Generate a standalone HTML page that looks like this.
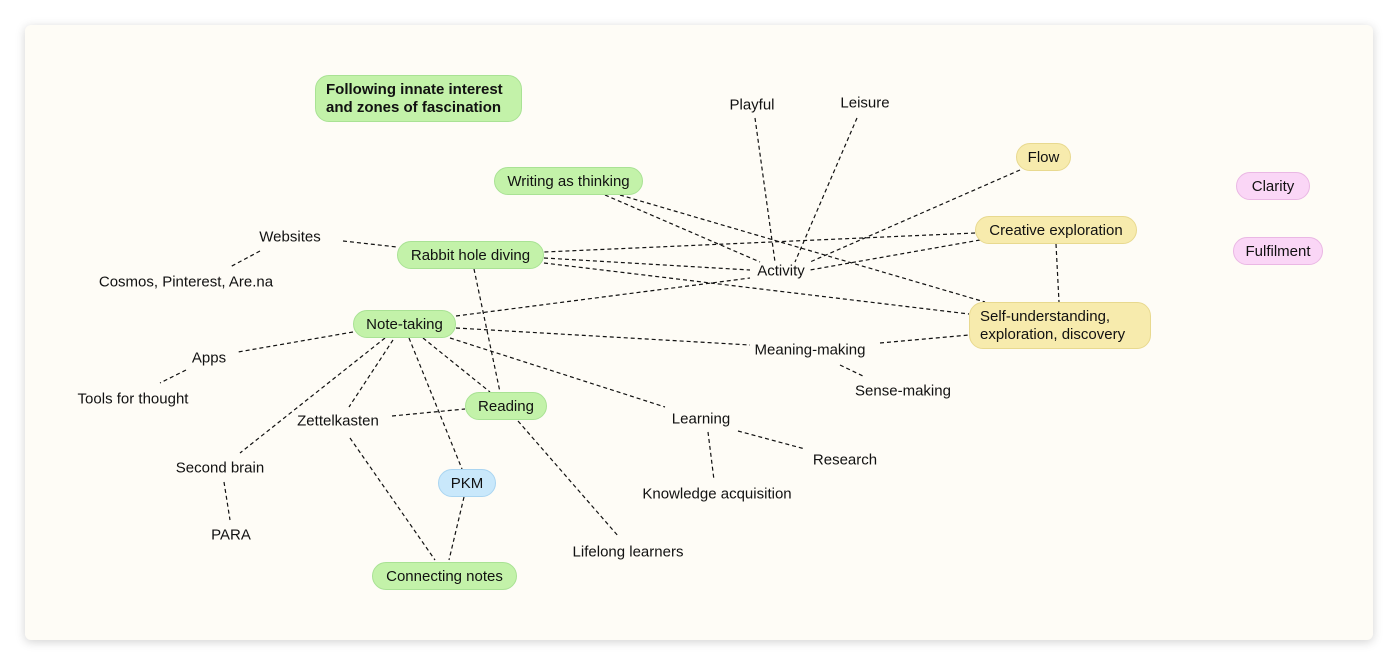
<!DOCTYPE html>
<html><head><meta charset="utf-8"><style>
html,body{margin:0;padding:0;width:1398px;height:665px;background:#fff;overflow:hidden;font-family:"Liberation Sans",Arial,sans-serif;}
.card{position:absolute;left:25px;top:25px;width:1348px;height:615px;background:#fefcf6;border-radius:6px;box-shadow:0 2px 10px rgba(0,0,0,0.18);}
svg{position:absolute;left:0;top:0;}
.n{position:absolute;box-sizing:border-box;border-radius:14px;font-size:15px;color:#111;display:flex;align-items:center;justify-content:center;white-space:nowrap;}
.g{background:#c3f2a9;border:1px solid #a9e294;}
.y{background:#f7ebad;border:1px solid #e8d98f;}
.b{background:#c9e8fb;border:1px solid #aad5f1;}
.p{background:#fad6f6;border:1px solid #eab7e4;}
.t{position:absolute;font-size:15px;color:#111;white-space:nowrap;transform:translate(-50%,-50%);}
</style></head><body>
<div class="card"></div>
<svg width="1398" height="665" stroke="#111" stroke-width="1.2" stroke-dasharray="4,3" fill="none">
<line x1="755" y1="118" x2="775" y2="262"/>
<line x1="857" y1="118" x2="795" y2="262"/>
<line x1="1020" y1="170" x2="810" y2="262"/>
<line x1="605" y1="195" x2="760" y2="262"/>
<line x1="620" y1="195" x2="985" y2="302"/>
<line x1="975" y1="233" x2="544" y2="252"/>
<line x1="980" y1="240" x2="810" y2="270"/>
<line x1="1056" y1="244" x2="1059" y2="302"/>
<line x1="544" y1="258" x2="750" y2="270"/>
<line x1="544" y1="263" x2="969" y2="314"/>
<line x1="343" y1="241" x2="397" y2="247"/>
<line x1="260" y1="251" x2="230" y2="267"/>
<line x1="456" y1="316" x2="750" y2="278"/>
<line x1="474" y1="269" x2="500" y2="392"/>
<line x1="456" y1="328" x2="750" y2="345"/>
<line x1="880" y1="343" x2="969" y2="335"/>
<line x1="840" y1="365" x2="865" y2="377"/>
<line x1="450" y1="338" x2="665" y2="407"/>
<line x1="738" y1="431" x2="805" y2="449"/>
<line x1="708" y1="432" x2="714" y2="480"/>
<line x1="353" y1="332" x2="238" y2="352"/>
<line x1="186" y1="370" x2="160" y2="383"/>
<line x1="423" y1="338" x2="490" y2="392"/>
<line x1="409" y1="338" x2="462" y2="469"/>
<line x1="393" y1="340" x2="349" y2="407"/>
<line x1="385" y1="338" x2="240" y2="453"/>
<line x1="392" y1="416" x2="465" y2="409"/>
<line x1="350" y1="438" x2="435" y2="560"/>
<line x1="464" y1="497" x2="449" y2="560"/>
<line x1="518" y1="421" x2="619" y2="537"/>
<line x1="224" y1="482" x2="230" y2="520"/>
</svg>
<div class="n g" style="left:315px;top:75px;width:207px;height:47px;font-weight:bold;line-height:18px;white-space:normal;text-align:left;justify-content:flex-start;padding-left:10px;">Following innate interest and zones of fascination</div>
<div class="n g" style="left:494px;top:167px;width:149px;height:28px;">Writing as thinking</div>
<div class="n g" style="left:397px;top:241px;width:147px;height:28px;">Rabbit hole diving</div>
<div class="n g" style="left:353px;top:310px;width:103px;height:28px;">Note-taking</div>
<div class="n g" style="left:465px;top:392px;width:82px;height:28px;">Reading</div>
<div class="n b" style="left:438px;top:469px;width:58px;height:28px;">PKM</div>
<div class="n g" style="left:372px;top:562px;width:145px;height:28px;">Connecting notes</div>
<div class="n y" style="left:1016px;top:143px;width:55px;height:28px;">Flow</div>
<div class="n y" style="left:975px;top:216px;width:162px;height:28px;">Creative exploration</div>
<div class="n y" style="left:969px;top:302px;width:182px;height:47px;white-space:normal;line-height:18px;justify-content:flex-start;padding-left:10px;">Self-understanding, exploration, discovery</div>
<div class="n p" style="left:1236px;top:172px;width:74px;height:28px;">Clarity</div>
<div class="n p" style="left:1233px;top:237px;width:90px;height:28px;">Fulfilment</div>
<div class="t" style="left:752px;top:105px;">Playful</div>
<div class="t" style="left:865px;top:103px;">Leisure</div>
<div class="t" style="left:290px;top:237px;">Websites</div>
<div class="t" style="left:186px;top:282px;">Cosmos, Pinterest, Are.na</div>
<div class="t" style="left:781px;top:271px;">Activity</div>
<div class="t" style="left:209px;top:358px;">Apps</div>
<div class="t" style="left:133px;top:399px;">Tools for thought</div>
<div class="t" style="left:810px;top:350px;">Meaning-making</div>
<div class="t" style="left:903px;top:391px;">Sense-making</div>
<div class="t" style="left:338px;top:421px;">Zettelkasten</div>
<div class="t" style="left:701px;top:419px;">Learning</div>
<div class="t" style="left:845px;top:460px;">Research</div>
<div class="t" style="left:220px;top:468px;">Second brain</div>
<div class="t" style="left:717px;top:494px;">Knowledge acquisition</div>
<div class="t" style="left:231px;top:535px;">PARA</div>
<div class="t" style="left:628px;top:552px;">Lifelong learners</div>
</body></html>
